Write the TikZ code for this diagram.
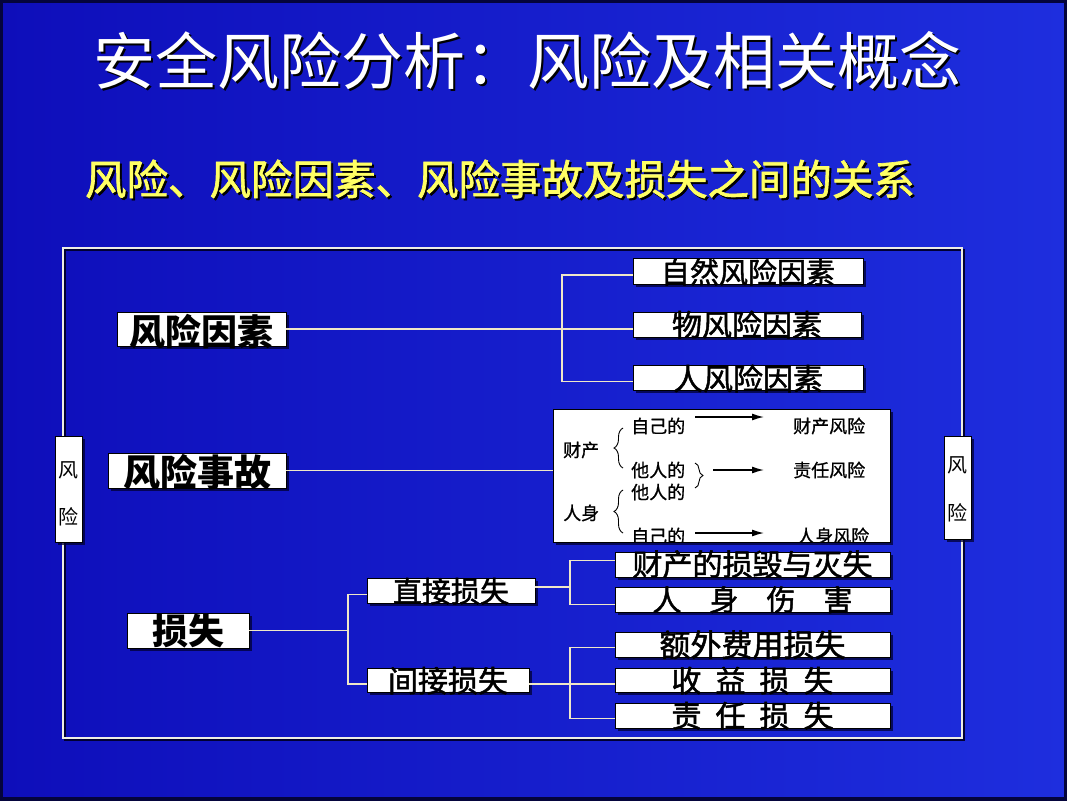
\documentclass[tikz,border=0pt]{standalone}
\usepackage{fontspec}
\newfontfamily\cjk{Noto Sans CJK SC}
\newfontfamily\cjkm{Noto Sans CJK SC}[FakeBold=1.6]
\newfontfamily\cjks{Noto Sans CJK SC}[FakeBold=0.8]
\usetikzlibrary{shadows,arrows.meta,decorations.pathreplacing,calc}
\definecolor{bgA}{RGB}{14,14,186}
\definecolor{bgB}{RGB}{30,46,222}
\definecolor{edgec}{RGB}{4,4,60}
\definecolor{linec}{RGB}{240,232,200}
\definecolor{framec}{RGB}{238,238,228}
\definecolor{ttlyel}{RGB}{255,255,100}
\definecolor{shad}{RGB}{0,0,50}
\newcommand\shtxt[2]{\rlap{\kern2pt\raisebox{-2pt}{\textcolor{#1}{#2}}}#2}
\begin{document}
\begin{tikzpicture}[x=1pt,y=-1pt,
  wbox/.style={draw=black, line width=0.8pt, fill=white, inner sep=0pt,
    drop shadow={shadow xshift=2.5pt,shadow yshift=-2.5pt,fill=shad,opacity=0.75}},
  bx/.style n args={3}{wbox, minimum width=#1, text height=#2, text depth=#3},
  conn/.style={draw=linec, line width=1.6pt},
  mtxt/.style={inner sep=0pt, font=\cjks\fontsize{18}{18}\selectfont, anchor=west},
  arr/.style={-{Latex[length=12pt,width=7pt]}, line width=1.4pt, black},
  brc/.style={decorate, decoration={brace, amplitude=#1}, line width=0.9pt, black},
  vbox/.style={wbox, minimum width=27pt, align=center, font=\cjk\fontsize{20}{47}\selectfont},
]
\useasboundingbox (0,0) rectangle (1067,800);
\shade[left color=bgA, right color=bgB] (0,0) rectangle (1067,800);
\draw[edgec, line width=6pt] (0,0) rectangle (1067,800);

% titles
\node[text=white, inner sep=0pt, font=\cjk\fontsize{62}{62}\selectfont] (title) at (527,62)
  {\shtxt{black}{安全风险分析：风险及相关概念}};
\node[text=ttlyel, inner sep=0pt, font=\cjkm\fontsize{41.5}{41.5}\selectfont] (sub) at (500,180)
  {\shtxt{black}{风险、风险因素、风险事故及损失之间的关系}};

% frame
\draw[shad, line width=1.5pt] (65,250) rectangle (964,740);
\draw[framec, line width=1.5pt] (63,248) rectangle (962,738);

% side boxes
\node[vbox, minimum height=106pt] (fl) at (68.5,489) {\rule{0pt}{25.6pt}风\\险};
\node[vbox, minimum height=103pt, font=\cjk\fontsize{20}{48}\selectfont] (fr) at (957.5,487.5) {\rule{0pt}{19.2pt}风\\险};

% main boxes
\node[bx={169pt}{33.8pt}{0.2pt}, font=\cjk\bfseries\fontsize{36}{36}\selectfont] (yz) at (201.5,329) {风险因素};
\node[bx={178pt}{33.7pt}{1.3pt}, font=\cjk\bfseries\fontsize{37}{37}\selectfont] (sg) at (197,470.5) {风险事故};
\node[bx={122pt}{31.8pt}{3.2pt}, font=\cjk\bfseries\fontsize{36}{36}\selectfont] (ss) at (188,630.5) {损失};

% risk factor boxes
\node[bx={230pt}{25.2pt}{0.8pt}, font=\cjkm\fontsize{29}{29}\selectfont] (zr) at (748,271) {自然风险因素};
\node[bx={228pt}{24.1pt}{0.9pt}, font=\cjkm\fontsize{30}{30}\selectfont] (w) at (747,324.5) {物风险因素};
\node[bx={230pt}{25pt}{0pt}, font=\cjkm\fontsize{30}{30}\selectfont] (r) at (748,377.5) {人风险因素};

% loss boxes
\node[bx={168pt}{24.2pt}{0.8pt}, font=\cjkm\fontsize{29}{29}\selectfont] (zj) at (451,590.5) {直接损失};
\node[bx={162pt}{24pt}{0pt}, font=\cjkm\fontsize{30}{30}\selectfont] (jj) at (448,680) {间接损失};
\node[bx={275pt}{23.6pt}{1.4pt}, font=\cjkm\fontsize{30}{30}\selectfont] (cc) at (752.5,564.5) {财产的损毁与灭失};
\node[bx={275pt}{23.7pt}{1.3pt}, font=\cjkm\fontsize{29}{29}\selectfont] (rs) at (752.5,599.5) {人\hspace{28pt}身\hspace{28pt}伤\hspace{28pt}害};
\node[bx={275pt}{24.5pt}{0.5pt}, font=\cjkm\fontsize{31}{31}\selectfont] (ew) at (752.5,644.5) {额外费用损失};
\node[bx={275pt}{24pt}{0pt}, font=\cjkm\fontsize{30}{30}\selectfont] (sy) at (752.5,680) {收\hspace{14pt}益\hspace{14pt}损\hspace{14pt}失};
\node[bx={275pt}{24.1pt}{0.9pt}, font=\cjkm\fontsize{30}{30}\selectfont] (zr2) at (752.5,715.5) {责\hspace{14pt}任\hspace{14pt}损\hspace{14pt}失};

% middle box
\node[wbox, minimum width=337pt, minimum height=133pt] (mid) at (721.5,475.5) {};
\begin{scope}
\clip (mid.south west) rectangle (mid.north east);
\node[mtxt] (cp) at (563,450) {财产};
\node[mtxt] (rsn) at (563,513) {人身};
\node[mtxt] (zj1) at (631,426) {自己的};
\node[mtxt] (tr1) at (631,470) {他人的};
\node[mtxt] (tr2) at (631,492) {他人的};
\node[mtxt] (zj2) at (631,536) {自己的};
\node[mtxt] (cfx) at (793,426) {财产风险};
\node[mtxt] (zrx) at (793,470) {责任风险};
\node[mtxt] (rsx) at (797,536) {人身风险};
\end{scope}
\coordinate (a1s) at (695,417); \coordinate (a1e) at (764,417);
\coordinate (a2s) at (713,470); \coordinate (a2e) at (764,470);
\coordinate (a3s) at (695,533); \coordinate (a3e) at (764,533);
\draw[arr] (a1s) -- (a1e);
\draw[arr] (a2s) -- (a2e);
\draw[arr] (a3s) -- (a3e);
\draw[brc=9pt] (623,468) -- (623,428);
\draw[brc=9pt] (623,533) -- (623,490);
\draw[brc=8pt] (695,463) -- (695,488);

% connectors
\coordinate (v1) at (562,329);
\coordinate (v2) at (348,630.5);
\coordinate (v3) at (570,587);
\coordinate (v4) at (570,684);
\draw[conn] (yz.east) -- (yz.east -| w.west);
\draw[conn] ([yshift=-4pt]zr.west) -| (v1) |- ([yshift=-4pt]r.west);
\draw[conn] (sg.east) -- (sg.east -| mid.west);
\draw[conn] (ss.east) -- (v2);
\draw[conn] ([yshift=-4pt]zj.west) -| (v2) |- ([yshift=-4pt]jj.west);
\draw[conn] ([yshift=3.5pt]zj.east) -- (v3);
\draw[conn] ([yshift=4pt]cc.west) -| (v3) |- ([yshift=-5pt]rs.west);
\draw[conn] ([yshift=-4pt]jj.east) -- (v4) -- (v4 -| sy.west);
\draw[conn] ([yshift=-3pt]ew.west) -| (v4) |- ([yshift=-3pt]zr2.west);
\end{tikzpicture}
\end{document}
